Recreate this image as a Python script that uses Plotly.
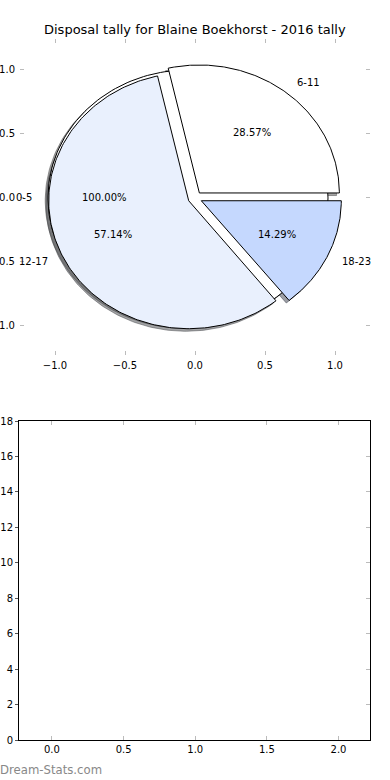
import numpy as np
import plotly.graph_objects as go

# ---- data ----
title_text = "Disposal tally for Blaine Boekhorst - 2016 tally"
first_labels = ["0-5"]
first_values = [1]
first_colors = ["#ffffff"]
labels = ["6-11", "12-17", "18-23"]
values = [2, 4, 1]
colors = ["#ffffff", "#e9f0fd", "#c5d8fe"]
explode = 0.05
pie_ticks = [-1.0, -0.5, 0.0, 0.5, 1.0]
pie_ticktext = ["\u22121.0", "\u22120.5", "0.0", "0.5", "1.0"]
bar_yticks = list(range(0, 19, 2))
bar_xticks = [0.0, 0.5, 1.0, 1.5, 2.0]
watermark = "Dream-Stats.com"

FONT = "DejaVu Sans"
fig = go.Figure()


def hex_rgb(h):
    h = h.lstrip("#")
    return [int(h[i:i + 2], 16) for i in (0, 2, 4)]


def wedge_poly(t1, t2, cx, cy, r=1.0):
    th = np.radians(np.linspace(t1, t2, 200))
    xs = cx + r * np.cos(th)
    ys = cy + r * np.sin(th)
    if abs(t2 - t1 - 360) > 1e-9:
        xs = np.concatenate([[cx], xs, [cx]])
        ys = np.concatenate([[cy], ys, [cy]])
    return xs, ys


def pie_geom(vals):
    vals = np.asarray(vals, dtype=float)
    fr = vals / vals.sum()
    ends = np.cumsum(fr) * 360.0
    starts = ends - fr * 360.0
    out = []
    for s, e, f in zip(starts, ends, fr):
        mid = np.radians((s + e) / 2)
        cx, cy = explode * np.cos(mid), explode * np.sin(mid)
        out.append((s, e, f, mid, cx, cy))
    return out


g1 = pie_geom(first_values)
g2 = pie_geom(values)

# shadows (all below wedges)
for geom, cols in ((g1, first_colors), (g2, colors)):
    for (s, e, f, mid, cx, cy), c in zip(geom, cols):
        xs, ys = wedge_poly(s, e, cx - 0.02, cy - 0.02)
        r, g, b = [int(v * 0.3) for v in hex_rgb(c)]
        col = f"rgba({r},{g},{b},0.5)"
        fig.add_trace(go.Scatter(x=xs, y=ys, mode="lines", fill="toself",
                                 fillcolor=col, line=dict(color=col, width=1),
                                 hoverinfo="skip", showlegend=False,
                                 xaxis="x", yaxis="y"))

# wedges
annotations = []
for geom, cols, labs in ((g1, first_colors, first_labels), (g2, colors, labels)):
    for (s, e, f, mid, cx, cy), c, lab in zip(geom, cols, labs):
        xs, ys = wedge_poly(s, e, cx, cy)
        fig.add_trace(go.Scatter(x=xs, y=ys, mode="lines", fill="toself",
                                 fillcolor=c, line=dict(color="black", width=1),
                                 hoverinfo="skip", showlegend=False,
                                 xaxis="x", yaxis="y"))
        lx, ly = cx + 1.1 * np.cos(mid), cy + 1.1 * np.sin(mid)
        annotations.append(dict(x=lx, y=ly, xref="x", yref="y", text=lab,
                                showarrow=False,
                                xanchor="left" if lx > 0 else "right",
                                yanchor="middle",
                                font=dict(family=FONT, size=10, color="black")))
        px_, py_ = cx + 0.6 * np.cos(mid), cy + 0.6 * np.sin(mid)
        annotations.append(dict(x=px_, y=py_, xref="x", yref="y",
                                text=f"{f * 100:.2f}%", showarrow=False,
                                xanchor="center", yanchor="middle",
                                font=dict(family=FONT, size=10, color="black")))

# empty bottom axes (invisible placeholder trace)
fig.add_trace(go.Scatter(x=[None], y=[None], mode="markers", showlegend=False,
                         hoverinfo="skip", xaxis="x2", yaxis="y2"))

annotations.append(dict(x=0.5, y=1 - 30 / 780, xref="paper", yref="paper",
                        text=title_text, showarrow=False, xanchor="center",
                        yanchor="middle",
                        font=dict(family=FONT, size=13, color="black")))
annotations.append(dict(x=0.0, y=1 - 770 / 780, xref="paper", yref="paper",
                        text=watermark, showarrow=False,
                        xanchor="left", yanchor="middle", xshift=-2,
                        font=dict(family=FONT, size=11.7, color="#888888")))

tickfont = dict(family=FONT, size=10, color="black")
fig.update_layout(
    width=390, height=780,
    margin=dict(l=0, r=0, t=0, b=0, autoexpand=False),
    paper_bgcolor="white", plot_bgcolor="white",
    showlegend=False,
    annotations=annotations,
    xaxis=dict(domain=[20 / 390, 370 / 390], range=[-1.25, 1.25],
               tickvals=pie_ticks, ticktext=pie_ticktext, automargin=False,
               ticks="inside", ticklen=4, tickcolor="#bbbbbb", tickwidth=1,
               ticklabelstandoff=3,
               mirror="ticks", showline=False, showgrid=False, zeroline=False,
               tickfont=tickfont, anchor="y"),
    yaxis=dict(domain=[1 - 355 / 780, 1 - 39 / 780], range=[-1.227, 1.242],
               tickvals=pie_ticks, ticktext=pie_ticktext, automargin=False,
               ticks="inside", ticklen=4, tickcolor="#bbbbbb", tickwidth=1,
               ticklabelstandoff=4,
               mirror="ticks", showline=False, showgrid=False, zeroline=False,
               tickfont=tickfont, anchor="x"),
    xaxis2=dict(domain=[19 / 390, 370 / 390], range=[-0.23, 2.22],
                tickvals=bar_xticks, ticktext=[f"{v:.1f}" for v in bar_xticks],
                ticks="inside", ticklen=4, tickcolor="#bbbbbb", tickwidth=1,
                mirror="ticks", showline=True, linecolor="black", linewidth=1,
                automargin=False,
                showgrid=False, zeroline=False, tickfont=tickfont, anchor="y2"),
    yaxis2=dict(domain=[1 - 740 / 780, 1 - 421 / 780], range=[0, 18],
                tickvals=bar_yticks, ticktext=[str(v) for v in bar_yticks],
                ticks="outside", ticklen=3, tickcolor="#555555", tickwidth=1,
                mirror=True, showline=True, linecolor="black", linewidth=1,
                automargin=False,
                showgrid=False, zeroline=False, tickfont=tickfont, anchor="x2"),
    yaxis3=dict(overlaying="y2", side="right", range=[0, 18],
                tickvals=bar_yticks, showticklabels=False, automargin=False,
                ticks="inside", ticklen=4, tickcolor="#bbbbbb", tickwidth=1,
                showline=False, showgrid=False, zeroline=False, anchor="x2"),
)
fig.add_trace(go.Scatter(x=[None], y=[None], mode="markers", showlegend=False,
                         hoverinfo="skip", xaxis="x2", yaxis="y3"))

fig.write_html("out.html",
               config={"displayModeBar": False},
               post_script="document.body.style.margin='0';"
                           "document.body.style.overflow='hidden';")
